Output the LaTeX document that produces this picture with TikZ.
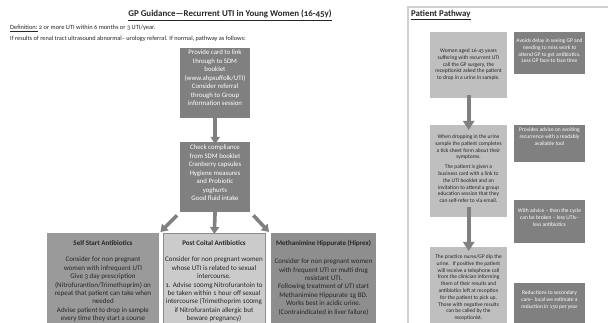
\documentclass[tikz,border=0pt]{standalone}
\usepackage{fontspec}
\setmainfont{Carlito}[Numbers=OldStyle]
\usetikzlibrary{arrows.meta}
\definecolor{dkbox}{HTML}{808080}
\definecolor{lbbox}{HTML}{9A9A9A}
\definecolor{mbbox}{HTML}{CBCBCB}
\definecolor{mbdraw}{HTML}{8C8C8C}
\definecolor{rbbox}{HTML}{8E8E8E}
\definecolor{ltbox}{HTML}{BFBFBF}
\definecolor{txtdk}{HTML}{262626}
\definecolor{arrowc}{HTML}{808080}
\definecolor{framec}{HTML}{D0D0D0}
\begin{document}
\begin{tikzpicture}[x=1pt,y=-1pt,
  boxshape/.style={rectangle,inner sep=0pt,anchor=north west},
  whitetxt/.style={inner sep=0pt,anchor=north,align=center,text=white},
  darktxt/.style={inner sep=0pt,anchor=north,align=center,text=txtdk},
  lfont/.style={font=\fontsize{6.8}{8.5}\selectfont},
  bfont/.style={font=\fontsize{7}{8.4}\selectfont},
  rfont/.style={font=\fontsize{5.5}{6.8}\selectfont},
  bigarrow/.style={draw=arrowc,line width=3.6pt,-{Triangle[length=7pt,width=9pt]}},
  rarrow/.style={draw=arrowc,line width=4pt,-{Triangle[length=9pt,width=11pt]}}]
\clip (0,0) rectangle (608,323);
\fill[white] (0,0) rectangle (608,323);

% ---- left part: headings
\node[anchor=base,inner sep=0pt,text=txtdk,font=\fontsize{8.9}{10}\selectfont\bfseries] (title) at (230,17)
  {\underline{GP Guidance—Recurrent UTI in Young Women (16-45y)}};
\node[anchor=base west,inner sep=0pt,text=txtdk,font=\fontsize{6.4}{7}\selectfont] (def) at (10,30)
  {\underline{Definition:} 2 or more UTI within 6 months or 3 UTI/year.};
\node[anchor=base west,inner sep=0pt,text=txtdk,font=\fontsize{6.3}{7}\selectfont] (ifres) at (10,41)
  {If results of renal tract ultrasound abnormal– urology referral. If normal, pathway as follows:};

% ---- left boxes
\node[boxshape,fill=dkbox,minimum width=70pt,minimum height=70pt] (b1) at (180,48) {};
\node[whitetxt,lfont] (b1t) at (215,50) {Provide card to link\\through to SDM\\booklet\\(www.ahpsuffolk/UTI)\\Consider referral\\through to Group\\information session};

\node[boxshape,fill=dkbox,minimum width=70pt,minimum height=70pt] (b2) at (180,142) {};
\node[whitetxt,lfont] (b2t) at (215,145) {Check compliance\\from SDM booklet\\Cranberry capsules\\Hygiene measures\\and Probiotic\\yoghurts\\Good fluid intake};

\node[boxshape,fill=lbbox,minimum width=112pt,minimum height=100pt] (lb) at (47,233) {};
\node[darktxt,bfont] (lbt) at (103,240) {\textbf{Self Start Antibiotics}\\[8.4pt]Consider for non pregnant\\women with infrequent UTI\\Give 3 day prescription\\(Nitrofurantion/Trimethoprim) on\\repeat that patient can take when\\needed\\Advise patient to drop in sample\\every time they start a course};

\node[boxshape,fill=mbbox,draw=mbdraw,line width=0.6pt,minimum width=102pt,minimum height=100pt] (mb) at (163,233) {};
\node[darktxt,bfont] (mbt) at (214,240) {\textbf{Post Coital Antibiotics}\\[8.4pt]Consider for non pregnant women\\whose UTI is related to sexual\\intercourse.\\1. Advise 100mg Nitrofurantoin to\\be taken within 1 hour off sexual\\intercourse (Trimethoprim 100mg\\if Nitrofurantain allergic but\\beware pregnancy)};

\node[boxshape,fill=rbbox,minimum width=105pt,minimum height=91pt] (rb) at (271,233) {};
\node[darktxt,bfont] (rbt) at (323.5,240) {\textbf{Methanimine Hippurate (Hiprex)}\\[10pt]Consider for non pregnant women\\with frequent UTI or multi drug\\resistant UTI.\\Following treatment of UTI start\\Methanimine Hippurate 1g BD.\\Works best in acidic urine.\\(Contraindicated in liver failure)};

% ---- left arrows
\draw[bigarrow] ([yshift=4pt]b1.south) -- ([yshift=-2pt]b2.north);
\draw[bigarrow] ([shift={(-3,3)}]b2.south west) -- ([shift={(1,-1)}]lb.north east);
\draw[bigarrow] ([yshift=4pt]b2.south) -- ([yshift=-1pt]mb.north);
\draw[bigarrow] ([shift={(3,3)}]b2.south east) -- ([shift={(-2,-1)}]rb.north west);

% ---- right panel
\draw[framec,line width=1.2pt] (608,7) coordinate (frTR) -- (408,7) coordinate (frTL) -- (408,323) coordinate (frBL);
\node[anchor=base west,inner sep=0pt,text=txtdk,font=\fontsize{8.8}{10}\selectfont\bfseries] (pp) at (411,16.5) {\underline{Patient Pathway}};

\node[boxshape,fill=ltbox,minimum width=77pt,minimum height=66pt] (pa) at (430,32) {};
\node[darktxt,rfont] (pat) at (468.5,48.5) {Women aged 16-45 years\\suffering with recurrent UTI\\call the GP surgery, the\\receptionist asked the patient\\to drop in a urine in sample.};

\node[boxshape,fill=dkbox,minimum width=71pt,minimum height=42pt] (pb) at (514,32) {};
\node[whitetxt,rfont] (pbt) at (549.5,38.5) {Avoids delay in seeing GP and\\needing to miss work to\\attend GP to get antibiotics.\\Less GP face-to face time};

\node[boxshape,fill=ltbox,minimum width=77pt,minimum height=92pt] (pc) at (430,125) {};
\node[darktxt,rfont] (pct) at (468.5,134.5) {When dropping in the urine\\sample the patient completes\\a tick sheet form about their\\symptoms.\\[3pt]The patient is given a\\business card with a link to\\the UTI booklet and an\\invitation to attend a group\\education session that they\\can self-refer to via email.};

\node[boxshape,fill=dkbox,minimum width=71pt,minimum height=37pt] (pd) at (514,125) {};
\node[whitetxt,rfont] (pdt) at (549.5,127.5) {Provides advice on avoiting\\recurrence with a readably\\available tool};

\node[boxshape,fill=dkbox,minimum width=71pt,minimum height=43pt] (pe) at (514,200) {};
\node[whitetxt,rfont] (pet) at (549.5,208.5) {With advice – then the cycle\\can be broken – less UTIs–\\less antibiotics};

\node[boxshape,fill=ltbox,minimum width=77pt,minimum height=76pt] (pf) at (430,247) {};
\node[darktxt,rfont] (pft) at (468.5,254.5) {The practice nurse/GP dip the\\urine.~ If positive the patient\\will receive a telephone call\\from the clinician informing\\them of their results and\\antibiotics left at reception\\for the patient to pick up.\\Those with negative results\\can be called by the\\receptionist.};

\node[boxshape,fill=dkbox,minimum width=71pt,minimum height=41pt] (pg) at (514,283) {};
\node[whitetxt,rfont] (pgt) at (549.5,290.5) {Reductions to secondary\\care– local we estimate a\\reduction in 150 per year};

\draw[rarrow] ([yshift=3pt]pa.south) -- ([yshift=-5pt]pc.north);
\draw[rarrow] ([yshift=10pt]pc.south) -- ([yshift=-4pt]pf.north);
\end{tikzpicture}
\end{document}
